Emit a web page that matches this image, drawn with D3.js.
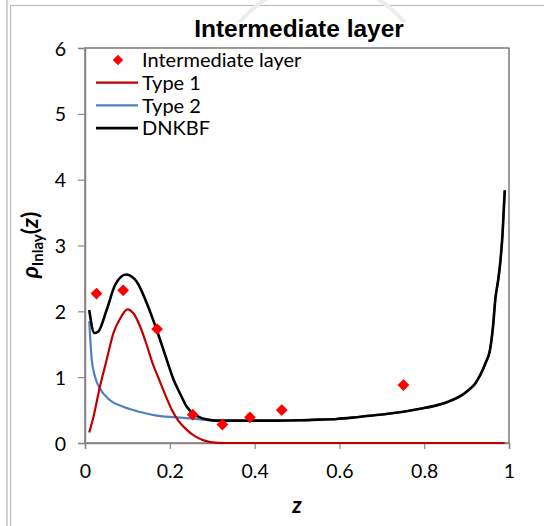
<!DOCTYPE html>
<html>
<head>
<meta charset="utf-8">
<script src="https://cdn.jsdelivr.net/npm/d3@7"></script>
<style>
  body { margin: 0; background: #fff; }
  svg { display: block; }
</style>
</head>
<body>
<div id="chart-area"></div>
<script>
// measured points (diamonds)
const obsZ   = [0.027, 0.090, 0.170, 0.254, 0.324, 0.389, 0.464, 0.751];
const obsRho = [2.27, 2.32, 1.73, 0.43, 0.28, 0.39, 0.50, 0.88];

// Type 1 curve
const type1Z   = [0.01, 0.02, 0.035, 0.051, 0.067, 0.083, 0.10, 0.114, 0.13, 0.145, 0.16, 0.175, 0.19, 0.205, 0.22, 0.24, 0.26, 0.28, 0.30, 0.33, 0.40, 0.50, 0.60, 0.70, 0.80, 0.90, 0.99];
const type1Rho = [0.16, 0.40, 0.85, 1.26, 1.67, 1.89, 2.03, 1.97, 1.77, 1.50, 1.20, 0.96, 0.72, 0.50, 0.34, 0.20, 0.10, 0.04, 0.01, 0.0, 0.0, 0.0, 0.0, 0.0, 0.0, 0.0, 0.0];

// Type 2 curve (runs under DNKBF once Type 1 is zero)
const type2Z   = [0.01, 0.016, 0.024, 0.035, 0.059, 0.09, 0.13, 0.169, 0.216, 0.271, 0.31, 0.35, 0.40, 0.45, 0.507, 0.55, 0.594, 0.63, 0.672, 0.71, 0.751, 0.79, 0.822, 0.85, 0.869, 0.89, 0.904, 0.92, 0.932, 0.945, 0.955, 0.962, 0.968, 0.975, 0.98, 0.985, 0.99];
const type2Rho = [1.85, 1.26, 1.00, 0.83, 0.65, 0.55, 0.47, 0.415, 0.39, 0.36, 0.34, 0.34, 0.34, 0.34, 0.345, 0.355, 0.365, 0.385, 0.415, 0.44, 0.475, 0.52, 0.56, 0.61, 0.66, 0.73, 0.80, 0.90, 1.03, 1.22, 1.41, 1.75, 2.20, 2.50, 2.78, 3.20, 3.84];

// DNKBF curve
const dnkbfZ   = [0.01, 0.022, 0.031, 0.051, 0.071, 0.097, 0.122, 0.146, 0.169, 0.193, 0.209, 0.225, 0.24, 0.255, 0.271, 0.29, 0.31, 0.35, 0.40, 0.45, 0.507, 0.55, 0.594, 0.63, 0.672, 0.71, 0.751, 0.79, 0.822, 0.85, 0.869, 0.89, 0.904, 0.92, 0.932, 0.945, 0.955, 0.962, 0.968, 0.975, 0.98, 0.985, 0.99];
const dnkbfRho = [2.02, 1.67, 1.69, 2.02, 2.40, 2.56, 2.45, 2.12, 1.72, 1.26, 0.96, 0.74, 0.55, 0.45, 0.39, 0.355, 0.34, 0.34, 0.34, 0.34, 0.345, 0.355, 0.365, 0.385, 0.415, 0.44, 0.475, 0.52, 0.56, 0.61, 0.66, 0.73, 0.80, 0.90, 1.03, 1.22, 1.41, 1.75, 2.20, 2.50, 2.78, 3.20, 3.84];

const xTicks = [0, 0.2, 0.4, 0.6, 0.8, 1];
const xTickLabels = ['0', '0.2', '0.4', '0.6', '0.8', '1'];
const yTicks = [0, 1, 2, 3, 4, 5, 6];

const legendNames = ['Intermediate layer', 'Type 1', 'Type 2', 'DNKBF'];

const width = 544;
const height = 526;
const plot = {left: 85, top: 48, right: 509, bottom: 443};
const labelFont = 'Lato, "Open Sans", sans-serif';

const svg = d3.select('#chart-area').append('svg')
    .attr('width', width)
    .attr('height', height);

// page / chart frame
svg.append('line')
    .attr('x1', 7).attr('x2', 7).attr('y1', 0).attr('y2', height)
    .attr('stroke', '#b4b4b4').attr('stroke-width', 1.2);
svg.append('rect')
    .attr('x', 10.5).attr('y', 5.5)
    .attr('width', width + 20).attr('height', height + 20)
    .attr('fill', '#fff')
    .attr('stroke', '#bdbdbd').attr('stroke-width', 1.2);

// faint watermark ring peeking at the top
svg.append('clipPath').attr('id', 'wm')
    .append('rect').attr('x', 0).attr('y', 0).attr('width', width).attr('height', 22);
svg.append('circle')
    .attr('cx', 322).attr('cy', 89).attr('r', 106)
    .attr('fill', 'none').attr('stroke', '#ececec').attr('stroke-width', 4)
    .attr('clip-path', 'url(#wm)');

const x = d3.scaleLinear().domain([0, 1]).range([plot.left, plot.right]);
const y = d3.scaleLinear().domain([0, 6]).range([plot.bottom, plot.top]);

// plot area border
svg.append('rect')
    .attr('x', plot.left).attr('y', plot.top)
    .attr('width', plot.right - plot.left).attr('height', plot.bottom - plot.top)
    .attr('fill', 'none').attr('stroke', '#595959').attr('stroke-width', 1.2);

// axes
const xAxis = svg.append('g')
    .attr('transform', `translate(0,${plot.bottom})`)
    .call(d3.axisBottom(x).tickValues(xTicks).tickFormat((d, i) => xTickLabels[i]).tickSize(6).tickPadding(15));
const yAxis = svg.append('g')
    .attr('transform', `translate(${plot.left},0)`)
    .call(d3.axisLeft(y).tickValues(yTicks).tickFormat(d3.format('d')).tickSize(7).tickPadding(12));

[xAxis, yAxis].forEach(ax => {
    ax.select('.domain').attr('stroke', '#868686').attr('stroke-width', 1.5);
    ax.selectAll('.tick line').attr('stroke', '#868686').attr('stroke-width', 1.2);
    ax.selectAll('.tick text')
        .attr('fill', '#000')
        .style('font-family', labelFont)
        .style('font-size', '19.5px');
});
yAxis.selectAll('.tick text').attr('dy', '0.36em');

// curves
const line = d3.line()
    .x(d => x(d[0]))
    .y(d => y(d[1]))
    .curve(d3.curveMonotoneX);

const series = [
    {z: type2Z, rho: type2Rho, color: '#4f81bd', w: 2.2},
    {z: type1Z, rho: type1Rho, color: '#c00000', w: 2.2},
    {z: dnkbfZ, rho: dnkbfRho, color: '#000000', w: 2.6}
];

svg.append('g').selectAll('path')
    .data(series)
    .join('path')
    .attr('d', s => line(d3.zip(s.z, s.rho)))
    .attr('fill', 'none')
    .attr('stroke', s => s.color)
    .attr('stroke-width', s => s.w)
    .attr('stroke-linejoin', 'round');

// diamonds
const diamond = d3.symbol().type(d3.symbolDiamond2).size(88);
svg.append('g').selectAll('path')
    .data(d3.zip(obsZ, obsRho))
    .join('path')
    .attr('transform', d => `translate(${x(d[0])},${y(d[1])})`)
    .attr('d', diamond)
    .attr('fill', '#ff0000');

// legend
const legend = svg.append('g').attr('transform', 'translate(96,60)');
const legendColors = [null, '#c00000', '#4f81bd', '#000000'];
const legendDiamond = d3.symbol().type(d3.symbolDiamond2).size(70);
const item = legend.selectAll('g')
    .data(legendNames)
    .join('g')
    .attr('transform', (d, i) => `translate(0,${i * 22.7})`);

item.filter((d, i) => i === 0).append('path')
    .attr('transform', 'translate(22,0)')
    .attr('d', legendDiamond)
    .attr('fill', '#ff0000');
item.filter((d, i) => i > 0).append('line')
    .attr('x1', 0).attr('x2', 42)
    .attr('stroke', (d, i) => legendColors[i + 1])
    .attr('stroke-width', (d, i) => i === 2 ? 2.6 : 2.2);
item.append('text')
    .attr('x', 46)
    .attr('dy', '0.36em')
    .style('font-family', labelFont)
    .style('font-size', '20px')
    .text(d => d);

// title
svg.append('text')
    .attr('x', 299).attr('y', 37)
    .attr('text-anchor', 'middle')
    .style('font-family', '"Liberation Sans", Arial, sans-serif')
    .style('font-weight', 'bold')
    .style('font-size', '24.5px')
    .text('Intermediate layer');

// x label
svg.append('text')
    .attr('x', 297).attr('y', 513)
    .attr('text-anchor', 'middle')
    .style('font-family', labelFont)
    .style('font-weight', 'bold')
    .style('font-style', 'italic')
    .style('font-size', '22px')
    .text('z');

// y label
const yLabel = svg.append('text')
    .attr('transform', 'translate(38,245) rotate(-90)')
    .attr('text-anchor', 'middle')
    .style('font-family', labelFont)
    .style('font-weight', 'bold')
    .style('font-size', '23px');
yLabel.append('tspan').style('font-style', 'italic').text('ρ');
yLabel.append('tspan').attr('dy', 5).style('font-size', '15px').text('Inlay');
yLabel.append('tspan').attr('dy', -5).text('(');
yLabel.append('tspan').style('font-style', 'italic').text('z');
yLabel.append('tspan').text(')');
</script>
</body>
</html>
